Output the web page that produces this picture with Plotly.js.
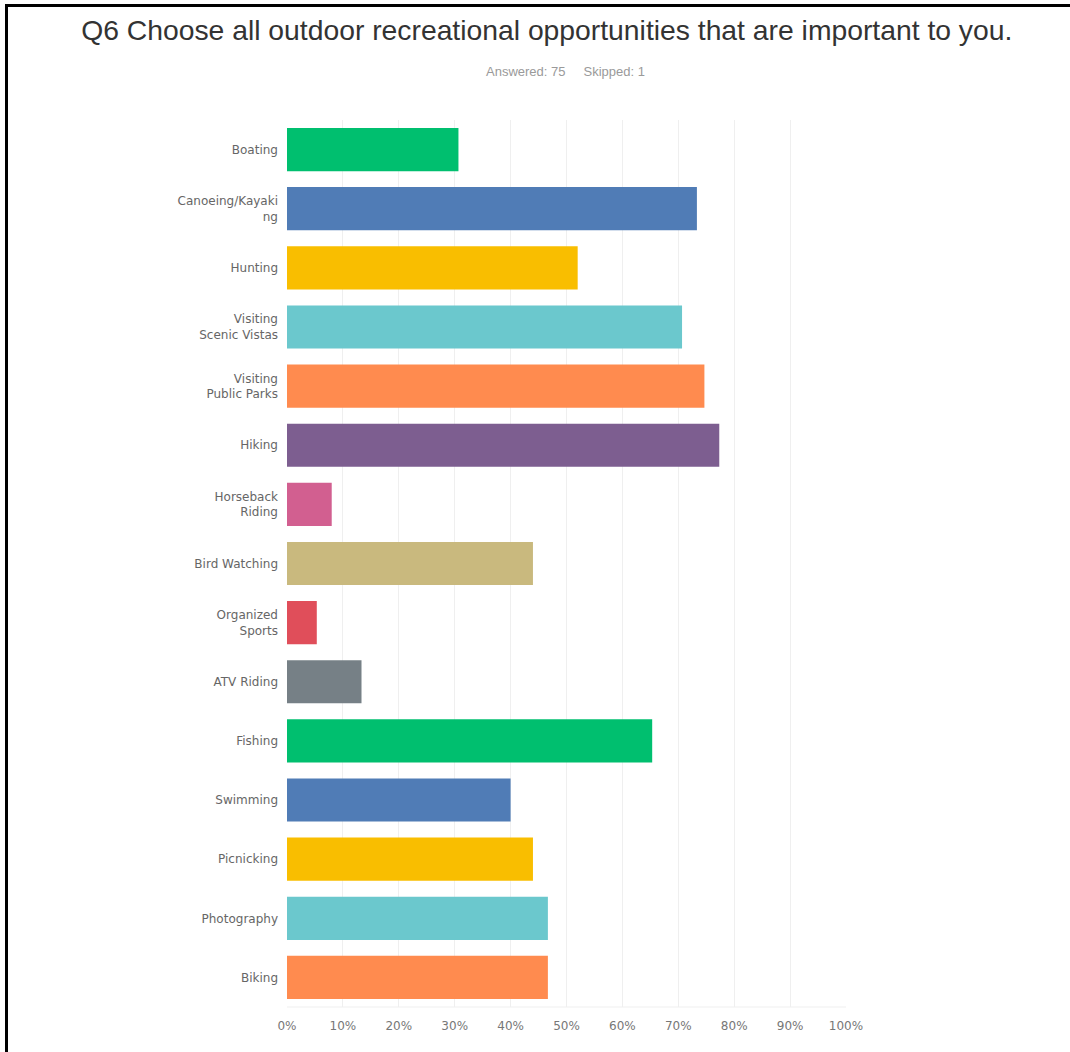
<!DOCTYPE html>
<html>
<head>
<meta charset="utf-8">
<script src="https://cdn.plot.ly/plotly-3.0.1.min.js"></script>
<style>
  html, body { margin: 0; padding: 0; background: #fff; }
  #frame { position: absolute; left: 0; top: 0; width: 1070px; height: 1052px; overflow: hidden; }
  #edge { position: absolute; left: 5px; top: 4px; width: 1070px; height: 1060px; border-left: 3px solid #000; border-top: 3px solid #000; pointer-events: none; }
  #chart { position: absolute; left: 0; top: 0; width: 1070px; height: 1052px; }
</style>
</head>
<body>
<div id="frame">
  <div id="chart"></div>
  <div id="edge"></div>
</div>
<script>
const categories = [
  "Boating", "Canoeing/Kayaki<br>ng", "Hunting", "Visiting<br>Scenic Vistas",
  "Visiting<br>Public Parks", "Hiking", "Horseback<br>Riding", "Bird Watching",
  "Organized<br>Sports", "ATV Riding", "Fishing", "Swimming", "Picnicking",
  "Photography", "Biking"
];
const percentages = [30.67, 73.33, 52.00, 70.67, 74.67, 77.33, 8.00, 44.00, 5.33, 13.33, 65.33, 40.00, 44.00, 46.67, 46.67];
const barColors = [
  "#00BF6F", "#507CB6", "#F9BE00", "#6BC8CD", "#FF8B4F", "#7D5E90", "#D25F90",
  "#C9B97E", "#E04E5A", "#768086", "#00BF6F", "#507CB6", "#F9BE00", "#6BC8CD", "#FF8B4F"
];
const tickValues = [0, 10, 20, 30, 40, 50, 60, 70, 80, 90, 100];
const tickLabels = ["0%", "10%", "20%", "30%", "40%", "50%", "60%", "70%", "80%", "90%", "100%"];
const titleText = "Q6 Choose all outdoor recreational opportunities that are important to you.";
const subtitleText = "Answered: 75&nbsp;&nbsp;&nbsp;&nbsp;&nbsp;Skipped: 1";

const trace = {
  type: "bar",
  orientation: "h",
  x: percentages,
  y: categories,
  marker: { color: barColors },
  width: 0.73,
  hoverinfo: "x+y"
};

const plotTop = 120, plotBottom = 45, H = 1052;

const layout = {
  width: 1070,
  height: H,
  paper_bgcolor: "#fff",
  plot_bgcolor: "#fff",
  showlegend: false,
  margin: { l: 287, r: 224, t: plotTop, b: plotBottom },
  title: {
    text: titleText,
    font: { family: "Liberation Sans, Arial, sans-serif", size: 28.3, color: "#333" },
    x: 0.511, xanchor: "center",
    y: 0.971, yanchor: "middle"
  },
  annotations: [{
    text: subtitleText,
    xref: "paper", yref: "paper",
    x: 0.499, xanchor: "center",
    y: (H - plotBottom - 71) / (H - plotTop - plotBottom),
    yanchor: "middle",
    showarrow: false,
    font: { family: "Liberation Sans, Arial, sans-serif", size: 13, color: "#9a9a9a" }
  }],
  xaxis: {
    range: [0, 100],
    tickvals: tickValues,
    ticktext: tickLabels,
    showgrid: true,
    gridcolor: "#efefef",
    gridwidth: 1,
    zeroline: false,
    showline: false,
    ticks: "",
    ticklabelstandoff: 10,
    tickfont: { family: "DejaVu Sans, sans-serif", size: 12, color: "#777" },
    fixedrange: true
  },
  yaxis: {
    autorange: "reversed",
    showgrid: false,
    zeroline: false,
    showline: false,
    ticks: "",
    ticklabelstandoff: 8,
    tickfont: { family: "DejaVu Sans, sans-serif", size: 12, color: "#666" },
    fixedrange: true
  },
  shapes: [{
    type: "line", xref: "paper", yref: "paper",
    x0: 0, x1: 1, y0: 0, y1: 0,
    line: { color: "#efefef", width: 1 }
  }]
};

Plotly.newPlot("chart", [trace], layout, { displayModeBar: false, staticPlot: true });
</script>
</body>
</html>
